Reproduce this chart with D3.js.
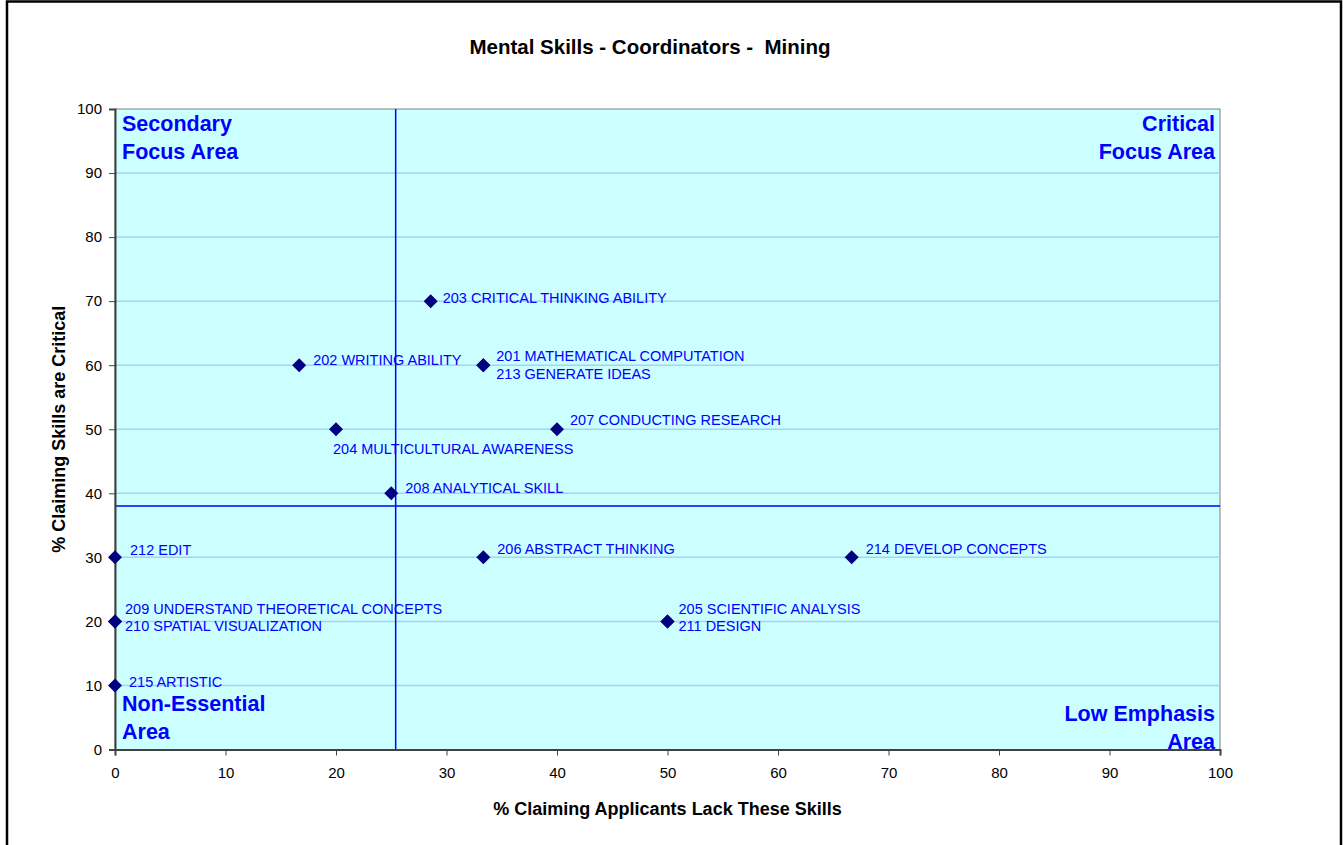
<!DOCTYPE html>
<html><head><meta charset="utf-8">
<script src="https://cdn.jsdelivr.net/npm/d3@7"></script>
<style>
body{margin:0;background:#fff;}
svg{display:block;font-family:Arial,"Liberation Sans",sans-serif;}
</style></head>
<body>
<svg id="chart" width="1343" height="845"></svg>
<script>
// ---- data ----
const title = "Mental Skills - Coordinators -  Mining";
const xTitle = "% Claiming Applicants Lack These Skills";
const yTitle = "% Claiming Skills are Critical";
const xTicks = [0,10,20,30,40,50,60,70,80,90,100];
const yTicks = [0,10,20,30,40,50,60,70,80,90,100];
const pointX = [33.33, 16.67, 28.57, 20, 50, 33.33, 40, 25, 0, 0, 50, 0, 33.33, 66.67, 0];
const pointY = [60, 60, 70, 50, 20, 30, 50, 40, 20, 20, 20, 30, 60, 30, 10];
const pointLabels = ["201 MATHEMATICAL COMPUTATION","202 WRITING ABILITY","203 CRITICAL THINKING ABILITY",
  "204 MULTICULTURAL AWARENESS","205 SCIENTIFIC ANALYSIS","206 ABSTRACT THINKING","207 CONDUCTING RESEARCH",
  "208 ANALYTICAL SKILL","209 UNDERSTAND THEORETICAL CONCEPTS","210 SPATIAL VISUALIZATION","211 DESIGN",
  "212 EDIT","213 GENERATE IDEAS","214 DEVELOP CONCEPTS","215 ARTISTIC"];
const refX = 25.4;   // vertical divider
const refY = 38;     // horizontal divider
const quadrantLabels = [["Secondary","Focus Area"],["Critical","Focus Area"],["Non-Essential","Area"],["Low Emphasis","Area"]];

// label placement (layout only): [dx, dy] in px from marker to label start / middle
const labelOffsets = [[13,-9],[14,-5],[12,-3],[-3,20],[11,-12],[14,-8],[13,-9],[14,-5],[10,-12],[10,5],[11,5],[15,-7],[13,9],[14,-8],[14,-4]];

// ---- layout ----
const svg = d3.select("#chart");
const L = 115, R = 1220, T = 109, B = 749.5;
const x = d3.scaleLinear().domain([0,100]).range([L,R]);
const y = d3.scaleLinear().domain([0,100]).range([B,T]);

// outer frame
svg.append("rect").attr("x",7).attr("y",1.5).attr("width",1334).attr("height",860)
  .attr("fill","#fff").attr("stroke","#000").attr("stroke-width",2.5);

// plot area
svg.append("rect").attr("x",L).attr("y",T).attr("width",R-L).attr("height",B-T)
  .attr("fill","#ccffff").attr("stroke","#808080").attr("stroke-width",1);

// gridlines
svg.append("g").selectAll("line").data(yTicks.filter(d=>d>0&&d<100)).join("line")
  .attr("x1",L).attr("x2",R).attr("y1",d=>y(d)).attr("y2",d=>y(d))
  .attr("stroke","#a6d2f5").attr("stroke-width",1.5);

// reference lines
svg.append("line").attr("x1",x(refX)).attr("x2",x(refX)).attr("y1",T).attr("y2",B)
  .attr("stroke","#0000ff").attr("stroke-width",1.5);
svg.append("line").attr("x1",L).attr("x2",R).attr("y1",y(refY)).attr("y2",y(refY))
  .attr("stroke","#0000ff").attr("stroke-width",1.5);

// axes
const xAxis = svg.append("g").attr("transform",`translate(0,${B})`)
  .call(d3.axisBottom(x).tickValues(xTicks).tickSize(6).tickPadding(12));
const yAxis = svg.append("g").attr("transform",`translate(${L},0)`)
  .call(d3.axisLeft(y).tickValues(yTicks).tickSize(6).tickPadding(7));
[xAxis,yAxis].forEach(a=>{
  a.select(".domain").attr("stroke","#404040").attr("stroke-width",2);
  a.selectAll(".tick line").attr("stroke","#404040");
  a.selectAll(".tick text").attr("fill","#000").style("font-size","15px").style("font-family","Arial,'Liberation Sans',sans-serif");
});

// points
const pts = pointX.map((d,i)=>({x:d,y:pointY[i],label:pointLabels[i],off:labelOffsets[i]}));
svg.append("g").selectAll("path").data(pts).join("path")
  .attr("d", d3.symbol().type(d3.symbolSquare).size(98))
  .attr("transform",d=>`translate(${x(d.x)},${y(d.y)}) rotate(45)`)
  .attr("fill","#000080");

svg.append("g").selectAll("text").data(pts).join("text")
  .attr("x",d=>x(d.x)+d.off[0]).attr("y",d=>y(d.y)+d.off[1])
  .attr("dy","0.35em").attr("fill","#0000ff")
  .style("font-size","14.5px").text(d=>d.label);

// quadrant labels
const qPos = [
  {x:L+7, y:T+22, anchor:"start"},
  {x:R-5, y:T+22, anchor:"end"},
  {x:L+7, y:B-39, anchor:"start"},
  {x:R-5, y:B-29, anchor:"end"}
];
quadrantLabels.forEach((lines,i)=>{
  const t = svg.append("text").attr("x",qPos[i].x).attr("y",qPos[i].y)
    .attr("text-anchor",qPos[i].anchor).attr("fill","#0000ff")
    .style("font-size","21.5px").style("font-weight","bold");
  lines.forEach((s,j)=>t.append("tspan").attr("x",qPos[i].x).attr("dy",j?28:0).text(s));
});

// titles
svg.append("text").attr("x",650).attr("y",54).attr("text-anchor","middle")
  .style("font-size","20.5px").style("font-weight","bold").style("white-space","pre").text(title);
svg.append("text").attr("x",(L+R)/2).attr("y",815).attr("text-anchor","middle")
  .style("font-size","18px").style("font-weight","bold").text(xTitle);
svg.append("text").attr("transform",`translate(65,${(T+B)/2}) rotate(-90)`).attr("text-anchor","middle")
  .style("font-size","18px").style("font-weight","bold").text(yTitle);
</script>
</body></html>
